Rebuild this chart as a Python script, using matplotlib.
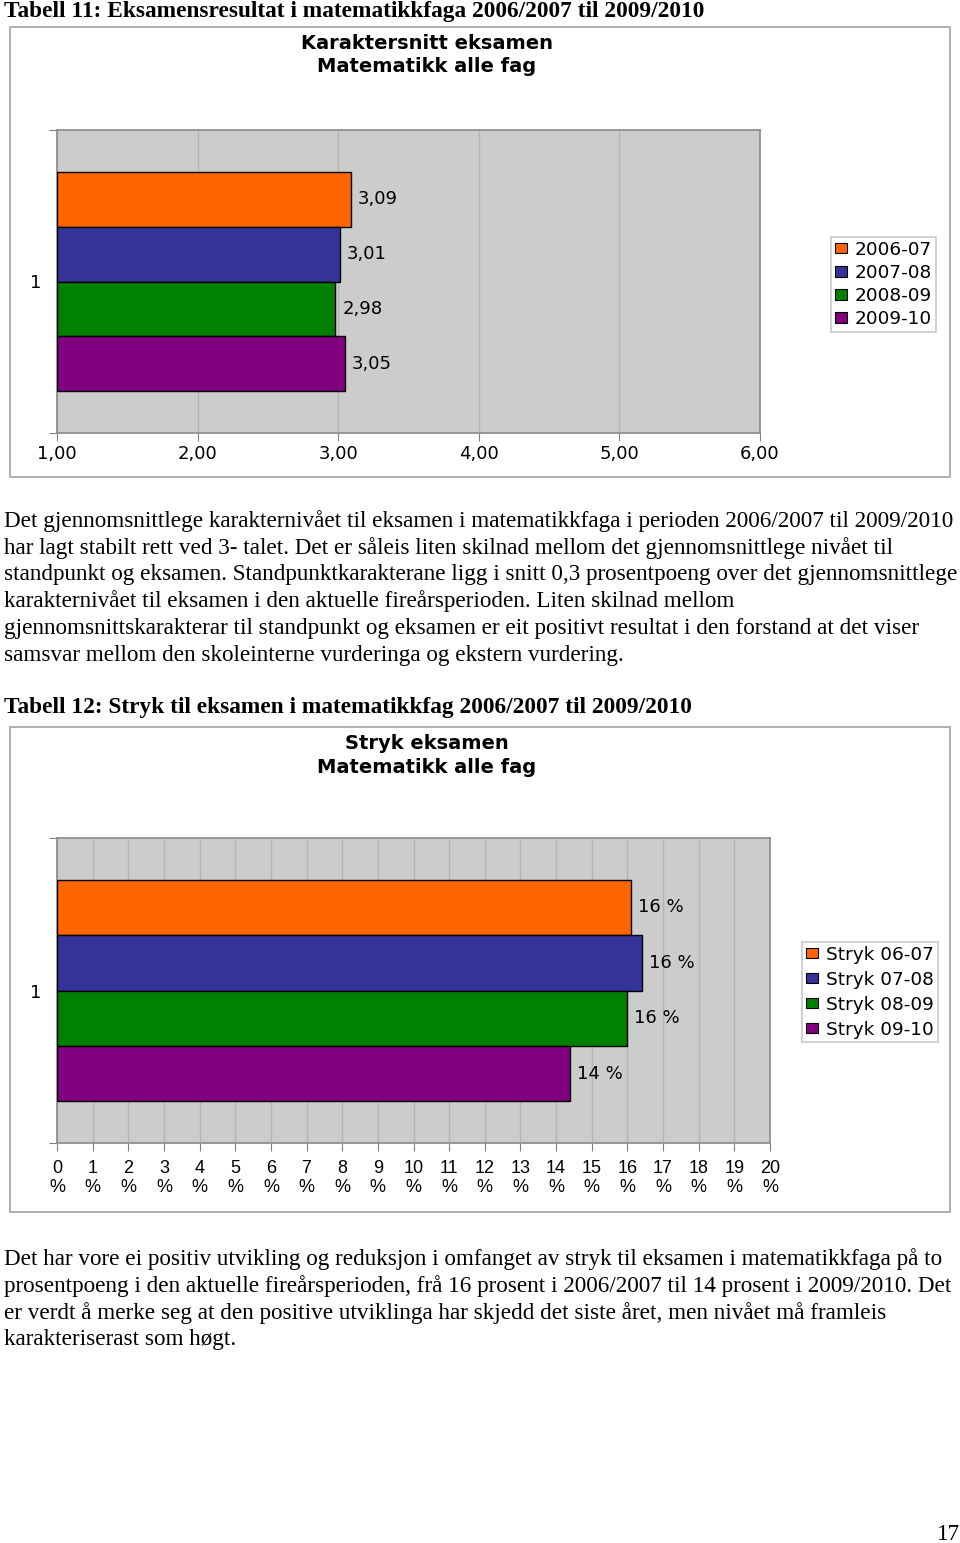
import matplotlib
matplotlib.use("Agg")
import matplotlib.pyplot as plt
from matplotlib.patches import Rectangle, Patch
import numpy as np

# ---------------- data ----------------
chart1_title = "Karaktersnitt eksamen\nMatematikk alle fag"
chart1_series = ["2006-07", "2007-08", "2008-09", "2009-10"]
chart1_values = [3.09, 3.01, 2.98, 3.05]
chart1_ticks = [1, 2, 3, 4, 5, 6]
chart1_category = "1"

chart2_title = "Stryk eksamen\nMatematikk alle fag"
chart2_series = ["Stryk 06-07", "Stryk 07-08", "Stryk 08-09", "Stryk 09-10"]
chart2_values = [16.1, 16.4, 16.0, 14.4]
chart2_ticks = list(range(0, 21))
chart2_category = "1"

colors = ["#FF6600", "#333399", "#008000", "#800080"]

heading1 = "Tabell 11: Eksamensresultat i matematikkfaga 2006/2007 til 2009/2010"
para1 = [
    "Det gjennomsnittlege karakternivået til eksamen i matematikkfaga i perioden 2006/2007 til 2009/2010",
    "har lagt stabilt rett ved 3- talet. Det er såleis liten skilnad mellom det gjennomsnittlege nivået til",
    "standpunkt og eksamen. Standpunktkarakterane ligg i snitt 0,3 prosentpoeng over det gjennomsnittlege",
    "karakternivået til eksamen i den aktuelle fireårsperioden. Liten skilnad mellom",
    "gjennomsnittskarakterar til standpunkt og eksamen er eit positivt resultat i den forstand at det viser",
    "samsvar mellom den skoleinterne vurderinga og ekstern vurdering.",
]
heading2 = "Tabell 12: Stryk til eksamen i matematikkfag 2006/2007 til 2009/2010"
para2 = [
    "Det har vore ei positiv utvikling og reduksjon i omfanget av stryk til eksamen i matematikkfaga på to",
    "prosentpoeng i den aktuelle fireårsperioden, frå 16 prosent i 2006/2007 til 14 prosent i 2009/2010. Det",
    "er verdt å merke seg at den positive utviklinga har skjedd det siste året, men nivået må framleis",
    "karakteriserast som høgt.",
]
page_number = "17"

# ---------------- layout helpers ----------------
W, H = 960, 1543
fig = plt.figure(figsize=(W / 100, H / 100), dpi=100)
fig.patch.set_facecolor("white")


def fx(x):
    return x / W


def fy(y):
    return 1 - y / H


def add_box(x0, y0, x1, y1):
    fig.patches.append(Rectangle((fx(x0), fy(y1)), fx(x1) - fx(x0), fy(y0) - fy(y1),
                                 transform=fig.transFigure, facecolor="white",
                                 edgecolor="#a8a8a8", linewidth=1.3, zorder=-5))


serif = "Liberation Serif"
body_fs = 16.7
head_fs = 16.8
chart_font = "DejaVu Sans"
label_fs = 13.0
legend_fs = 13.3

# ---------------- document text ----------------
fig.text(fx(4), fy(11), heading1, family=serif, weight="bold", fontsize=head_fs,
         ha="left", va="center")
for i, line in enumerate(para1):
    fig.text(fx(4), fy(521 + i * 26.8), line, family=serif, fontsize=body_fs,
             ha="left", va="center")
fig.text(fx(4), fy(708), heading2, family=serif, weight="bold", fontsize=head_fs,
         ha="left", va="center")
for i, line in enumerate(para2):
    fig.text(fx(4), fy(1259 + i * 26.8), line, family=serif, fontsize=body_fs,
             ha="left", va="center")
fig.text(fx(960), fy(1535), page_number, family=serif, fontsize=body_fs,
         ha="right", va="center")


def draw_chart(box, plot, title_y, title, series, values, ticks, xlim, category,
               label_fmt, tick_fmt, tick_font, tick_fs, tick_pad, legend_xy,
               legend_spacing):
    add_box(*box)
    px0, py0, px1, py1 = plot
    ax = fig.add_axes([fx(px0), fy(py1), fx(px1) - fx(px0), fy(py0) - fy(py1)])
    ax.set_facecolor("#cccccc")
    n = len(values)
    h = 0.1815
    ypos = [(n / 2 - 0.5 - i) * h for i in range(n)]
    base = xlim[0]
    for i, (v, c) in enumerate(zip(values, colors)):
        ax.barh(ypos[i], v - base, left=base, height=h, color=c, edgecolor="black",
                linewidth=1.0, zorder=3, label=series[i])
        ax.annotate(label_fmt(v), xy=(v, ypos[i]), xytext=(5, 0),
                    textcoords="offset points", ha="left", va="center",
                    family=chart_font, fontsize=label_fs, zorder=4)
    ax.set_xlim(*xlim)
    ax.set_ylim(-0.5, 0.5)
    ax.set_xticks(ticks)
    ax.set_xticklabels([tick_fmt(t) for t in ticks], family=tick_font, fontsize=tick_fs)
    ax.grid(axis="x", color="#b4b4b4", linewidth=1.0, zorder=1)
    ax.set_axisbelow(True)
    ax.set_yticks([-0.5, 0.5])
    ax.set_yticklabels([])
    ax.set_yticks([0], minor=True)
    ax.set_yticklabels([category], minor=True, family=chart_font, fontsize=label_fs)
    ax.tick_params(axis="y", which="minor", length=0, pad=11)
    ax.tick_params(axis="y", which="major", length=6, color="#808080")
    ax.tick_params(axis="x", length=6, color="#808080", pad=tick_pad)
    for s in ax.spines.values():
        s.set_color("#909090")
        s.set_linewidth(1.3)
    fig.text(fx(427), fy(title_y), title, family=chart_font, weight="bold",
             fontsize=14, ha="center", va="top", linespacing=1.3)
    handles = [Patch(facecolor=c, edgecolor="black", linewidth=0.8) for c in colors]
    leg = fig.legend(handles, series, loc="upper left",
                     bbox_to_anchor=(fx(legend_xy[0]), fy(legend_xy[1])),
                     bbox_transform=fig.transFigure, borderaxespad=0,
                     prop={"family": chart_font, "size": legend_fs},
                     handlelength=0.65, handleheight=0.5, handletextpad=0.45,
                     labelspacing=legend_spacing, borderpad=0.2,
                     fancybox=False, framealpha=1, edgecolor="#c8c8c8")
    leg.get_frame().set_linewidth(1.2)
    return ax


draw_chart(box=(10, 27, 950, 477), plot=(57, 130, 760, 433), title_y=34,
           title=chart1_title, series=chart1_series, values=chart1_values,
           ticks=chart1_ticks, xlim=(1, 6), category=chart1_category,
           label_fmt=lambda v: f"{v:.2f}".replace(".", ","),
           tick_fmt=lambda t: f"{t:.2f}".replace(".", ","),
           tick_font=chart_font, tick_fs=label_fs, tick_pad=2.5,
           legend_xy=(831, 237), legend_spacing=0.28)

draw_chart(box=(10, 727, 950, 1212), plot=(57, 838, 770, 1143), title_y=734,
           title=chart2_title, series=chart2_series, values=chart2_values,
           ticks=chart2_ticks, xlim=(0, 20), category=chart2_category,
           label_fmt=lambda v: f"{round(v)} %",
           tick_fmt=lambda t: f"{t}\n%",
           tick_font="Liberation Sans", tick_fs=13, tick_pad=6,
           legend_xy=(802, 942), legend_spacing=0.38)

fig.savefig("out.png", dpi=100, facecolor="white")
